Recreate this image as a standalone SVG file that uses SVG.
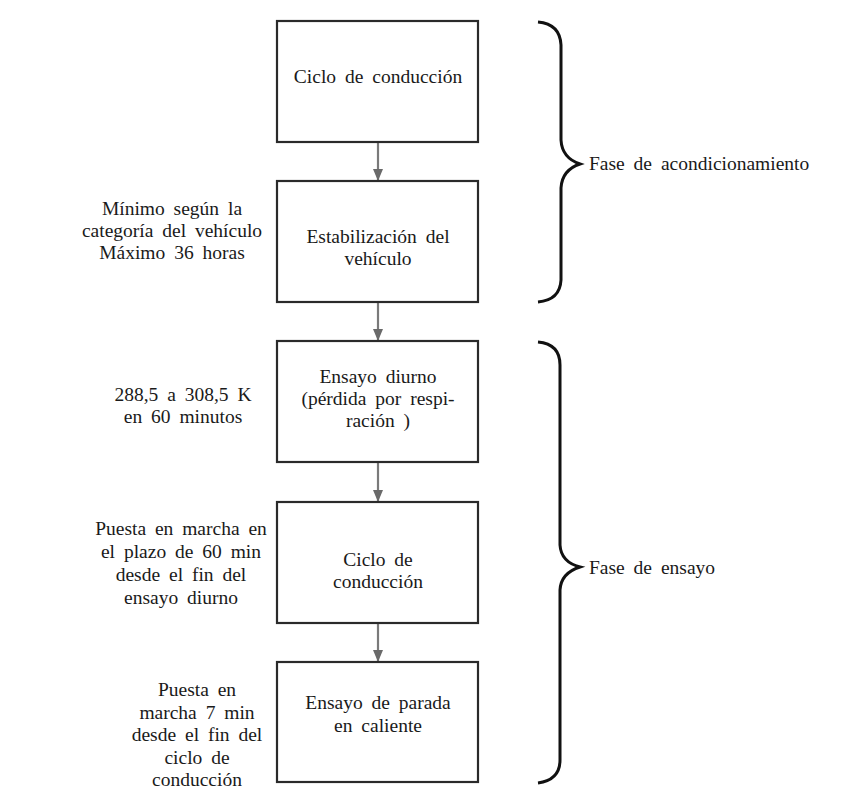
<svg xmlns="http://www.w3.org/2000/svg" width="862" height="805" viewBox="0 0 862 805">
<defs>
<style>
text{font-family:'Liberation Serif','DejaVu Serif',serif;font-size:19.5px;fill:#1a1a1a;word-spacing:4px}
.c{text-anchor:middle}
.box{fill:#fff;stroke:#2a2a2a;stroke-width:2.2}
.arr{stroke:#7a7a7a;stroke-width:2.2;fill:none}
.brace{fill:none;stroke:#111;stroke-width:3}
</style>
<marker id="ah" markerWidth="12" markerHeight="10" refX="11" refY="5" orient="auto" markerUnits="userSpaceOnUse">
<path d="M0,0 L12,5 L0,10 Z" fill="#6a6a6a"/>
</marker>
</defs>
<rect width="862" height="805" fill="#fff"/>
<g id="connectors">
<line class="arr" x1="378" y1="142" x2="378" y2="180" marker-end="url(#ah)"/>
<line class="arr" x1="378" y1="302" x2="378" y2="340" marker-end="url(#ah)"/>
<line class="arr" x1="378" y1="462" x2="378" y2="501" marker-end="url(#ah)"/>
<line class="arr" x1="378" y1="623" x2="378" y2="661" marker-end="url(#ah)"/>
</g>
<g id="n1">
<rect class="box" x="277" y="21" width="201" height="121"/>
<text class="c" x="378" y="83">Ciclo de conducción</text>
</g>
<g id="n2">
<rect class="box" x="277" y="181" width="201" height="121"/>
<text class="c" x="378" y="243">Estabilización del</text>
<text class="c" x="378" y="265">vehículo</text>
</g>
<g id="n3">
<rect class="box" x="277" y="341" width="201" height="121"/>
<text class="c" x="378" y="383">Ensayo diurno</text>
<text class="c" x="378" y="405">(pérdida por respi-</text>
<text class="c" x="378" y="427">ración )</text>
</g>
<g id="n4">
<rect class="box" x="277" y="502" width="201" height="121"/>
<text class="c" x="378" y="566">Ciclo de</text>
<text class="c" x="378" y="588">conducción</text>
</g>
<g id="n5">
<rect class="box" x="277" y="662" width="201" height="120"/>
<text class="c" x="378" y="709">Ensayo de parada</text>
<text class="c" x="378" y="732">en caliente</text>
</g>
<g id="note1">
<text class="c" x="172" y="215">Mínimo según la</text>
<text class="c" x="172" y="237">categoría del vehículo</text>
<text class="c" x="172" y="259">Máximo 36 horas</text>
</g>
<g id="note2">
<text class="c" x="183" y="401">288,5 a 308,5 K</text>
<text class="c" x="183" y="423">en 60 minutos</text>
</g>
<g id="note3">
<text class="c" x="181" y="535">Puesta en marcha en</text>
<text class="c" x="181" y="558">el plazo de 60 min</text>
<text class="c" x="181" y="581">desde el fin del</text>
<text class="c" x="181" y="604">ensayo diurno</text>
</g>
<g id="note4">
<text class="c" x="197" y="696">Puesta en</text>
<text class="c" x="197" y="719">marcha 7 min</text>
<text class="c" x="197" y="741">desde el fin del</text>
<text class="c" x="197" y="764">ciclo de</text>
<text class="c" x="197" y="786">conducción</text>
</g>
<g id="brace1">
<path class="brace" d="M538,22 Q560,24 561,45 L561,140 Q562,158 580,164 Q562,170 561,188 L561,280 Q560,300 538,302"/>
<text x="589" y="170">Fase de acondicionamiento</text>
</g>
<g id="brace2">
<path class="brace" d="M538,342 Q560,344 560,365 L560,545 Q561,562 580,567 Q561,573 560,590 L560,760 Q560,780 538,783"/>
<text x="589" y="574">Fase de ensayo</text>
</g>
</svg>
